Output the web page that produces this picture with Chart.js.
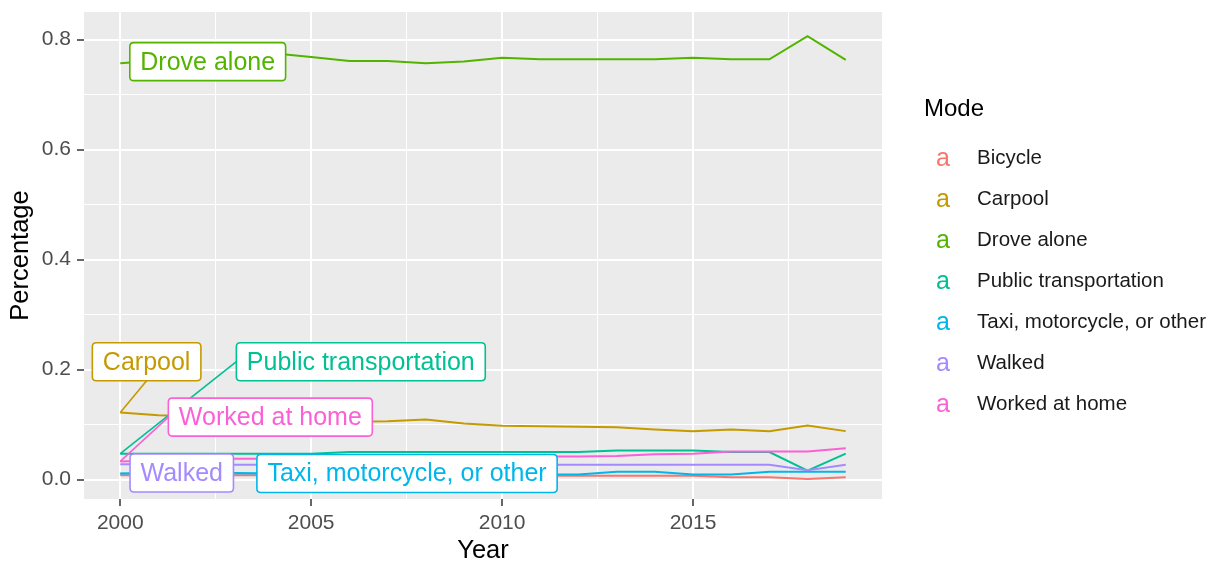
<!DOCTYPE html>
<html>
<head>
<meta charset="utf-8">
<script src="https://cdn.jsdelivr.net/npm/chart.js@4/dist/chart.umd.min.js"></script>
<style>
html, body { margin: 0; padding: 0; background: #fff; }
#wrap { width: 1227px; height: 566px; }
</style>
</head>
<body>
<div id="wrap"><canvas id="modeChart" width="1227" height="566"></canvas></div>
<script>
// data
const years = [2000, 2001, 2002, 2003, 2004, 2005, 2006, 2007, 2008, 2009,
               2010, 2011, 2012, 2013, 2014, 2015, 2016, 2017, 2018, 2019];
const modes = ['Bicycle', 'Carpool', 'Drove alone', 'Public transportation',
               'Taxi, motorcycle, or other', 'Walked', 'Worked at home'];

const bicycle    = [0.008, 0.008, 0.008, 0.008, 0.008, 0.008, 0.008, 0.008, 0.008, 0.007,
                    0.007, 0.007, 0.007, 0.007, 0.007, 0.007, 0.004, 0.004, 0.001, 0.004];
const carpool    = [0.122, 0.117, 0.115, 0.113, 0.111, 0.108, 0.105, 0.106, 0.109, 0.102,
                    0.098, 0.097, 0.096, 0.095, 0.091, 0.088, 0.091, 0.088, 0.098, 0.088];
const droveAlone = [0.757, 0.762, 0.767, 0.772, 0.775, 0.768, 0.761, 0.761, 0.757, 0.760,
                    0.767, 0.764, 0.764, 0.764, 0.764, 0.767, 0.764, 0.764, 0.806, 0.763];
const publicTransport = [0.047, 0.047, 0.047, 0.047, 0.047, 0.047, 0.050, 0.050, 0.050, 0.050,
                    0.050, 0.050, 0.050, 0.053, 0.053, 0.053, 0.050, 0.050, 0.016, 0.047];
const taxiOther  = [0.011, 0.012, 0.012, 0.012, 0.011, 0.011, 0.011, 0.010, 0.010, 0.010,
                    0.010, 0.009, 0.009, 0.014, 0.014, 0.009, 0.009, 0.014, 0.014, 0.014];
const walked     = [0.028, 0.028, 0.027, 0.027, 0.027, 0.027, 0.027, 0.027, 0.027, 0.027,
                    0.027, 0.027, 0.027, 0.027, 0.027, 0.027, 0.027, 0.027, 0.017, 0.027];
const workedHome = [0.033, 0.035, 0.037, 0.038, 0.038, 0.039, 0.039, 0.040, 0.040, 0.041,
                    0.041, 0.042, 0.042, 0.043, 0.046, 0.047, 0.051, 0.051, 0.051, 0.057];

const xTicks = [2000, 2005, 2010, 2015];
const yTicks = [0.0, 0.2, 0.4, 0.6, 0.8];

const seriesList = [bicycle, carpool, droveAlone, publicTransport, taxiOther, walked, workedHome];
const modeColors = ['#F8766D', '#C49A00', '#53B400', '#00C094', '#00B6EB', '#A58AFF', '#FB61D7'];

// where the repelled labels sit (data units), bicycle has none
const labelSpots = [
    { mode: 'Carpool', x: 2000.69, y: 0.2142 },
    { mode: 'Drove alone', x: 2002.29, y: 0.7597 },
    { mode: 'Public transportation', x: 2006.30, y: 0.2142 },
    { mode: 'Taxi, motorcycle, or other', x: 2007.51, y: 0.0109 },
    { mode: 'Walked', x: 2001.61, y: 0.0118 },
    { mode: 'Worked at home', x: 2003.93, y: 0.1135 }
];

const FONT = 'Arial, "Liberation Sans", sans-serif';

const datasets = modes.map((m, i) => ({
    label: m,
    data: years.map((yr, j) => ({ x: yr, y: seriesList[i][j] })),
    borderColor: modeColors[i],
    backgroundColor: modeColors[i],
    borderWidth: 2,
    pointRadius: 0,
    tension: 0,
    order: modes.length - i
}));

const panelBg = {
    id: 'panelBg',
    beforeDraw(chart) {
        const { ctx, chartArea: a } = chart;
        ctx.save();
        ctx.fillStyle = '#EBEBEB';
        ctx.fillRect(a.left, a.top, a.right - a.left, a.bottom - a.top);
        ctx.restore();
    }
};

function roundRect(ctx, x, y, w, h, r) {
    ctx.beginPath();
    ctx.moveTo(x + r, y);
    ctx.lineTo(x + w - r, y);
    ctx.quadraticCurveTo(x + w, y, x + w, y + r);
    ctx.lineTo(x + w, y + h - r);
    ctx.quadraticCurveTo(x + w, y + h, x + w - r, y + h);
    ctx.lineTo(x + r, y + h);
    ctx.quadraticCurveTo(x, y + h, x, y + h - r);
    ctx.lineTo(x, y + r);
    ctx.quadraticCurveTo(x, y, x + r, y);
    ctx.closePath();
}

const repelLabels = {
    id: 'repelLabels',
    afterDatasetsDraw(chart) {
        const { ctx, scales: { x, y } } = chart;
        ctx.save();
        ctx.font = '25px ' + FONT;
        const boxes = labelSpots.map(s => {
            const i = modes.indexOf(s.mode);
            const w = ctx.measureText(s.mode).width + 21;
            const h = 38;
            const cx = x.getPixelForValue(s.x), cy = y.getPixelForValue(s.y);
            return { i, text: s.mode, left: cx - w / 2, top: cy - h / 2, w, h, cx, cy };
        });
        // segments to the first point of each line
        boxes.forEach(b => {
            const px = x.getPixelForValue(years[0]);
            const py = y.getPixelForValue(seriesList[b.i][0]);
            const cands = [
                [b.left, b.cy], [b.left + b.w, b.cy], [b.cx, b.top], [b.cx, b.top + b.h]
            ];
            let best = cands[0], bd = Infinity;
            cands.forEach(c => {
                const d = Math.hypot(c[0] - px, c[1] - py);
                if (d < bd) { bd = d; best = c; }
            });
            if (bd < 20) return;
            ctx.strokeStyle = modeColors[b.i];
            ctx.lineWidth = 1.6;
            ctx.beginPath();
            ctx.moveTo(best[0], best[1]);
            ctx.lineTo(px, py);
            ctx.stroke();
        });
        boxes.forEach(b => {
            roundRect(ctx, b.left, b.top, b.w, b.h, 4);
            ctx.fillStyle = '#FFFFFF';
            ctx.fill();
            ctx.strokeStyle = modeColors[b.i];
            ctx.lineWidth = 1.6;
            ctx.stroke();
            ctx.fillStyle = modeColors[b.i];
            ctx.textAlign = 'center';
            ctx.textBaseline = 'middle';
            ctx.fillText(b.text, b.cx, b.cy + 1);
        });
        ctx.restore();
    }
};

const modeLegend = {
    id: 'modeLegend',
    afterDraw(chart) {
        const ctx = chart.ctx;
        ctx.save();
        ctx.textAlign = 'left';
        ctx.textBaseline = 'alphabetic';
        ctx.fillStyle = '#000000';
        ctx.font = '24px ' + FONT;
        ctx.fillText('Mode', 924, 116);
        chart.data.datasets.forEach((ds, i) => {
            const base = 164 + i * 41;
            ctx.font = '25px ' + FONT;
            ctx.fillStyle = ds.borderColor;
            ctx.fillText('a', 936, base + 2);
            ctx.font = '20.5px ' + FONT;
            ctx.fillStyle = '#1A1A1A';
            ctx.fillText(ds.label, 977, base);
        });
        ctx.restore();
    }
};

new Chart(document.getElementById('modeChart'), {
    type: 'line',
    data: { datasets: datasets },
    options: {
        responsive: false,
        animation: false,
        layout: { padding: { left: 0, top: 12, right: 345, bottom: 0 } },
        plugins: {
            legend: { display: false },
            tooltip: { enabled: false }
        },
        scales: {
            x: {
                type: 'linear',
                min: 1999.05,
                max: 2019.95,
                afterFit: s => { s.height = 67; s.paddingLeft = 0; s.paddingRight = 0; },
                afterBuildTicks: s => {
                    s.ticks = [2000, 2002.5, 2005, 2007.5, 2010, 2012.5, 2015, 2017.5].map(v => ({ value: v }));
                },
                border: { display: false },
                grid: {
                    color: '#FFFFFF',
                    lineWidth: c => xTicks.includes(c.tick.value) ? 2 : 1,
                    tickColor: c => xTicks.includes(c.tick.value) ? '#333333' : 'rgba(0,0,0,0)',
                    tickLength: 7,
                    tickWidth: 1.5
                },
                ticks: {
                    autoSkip: false,
                    maxRotation: 0,
                    padding: 5,
                    color: '#4D4D4D',
                    font: { family: FONT, size: 21 },
                    callback: v => xTicks.includes(v) ? String(v) : ''
                },
                title: {
                    display: true,
                    text: 'Year',
                    color: '#000000',
                    font: { family: FONT, size: 25.5 },
                    padding: { top: 0, bottom: 0 }
                }
            },
            y: {
                type: 'linear',
                min: -0.0354,
                max: 0.850,
                afterFit: s => { s.width = 84; s.paddingTop = 0; s.paddingBottom = 0; },
                afterBuildTicks: s => {
                    s.ticks = [0, 0.1, 0.2, 0.3, 0.4, 0.5, 0.6, 0.7, 0.8].map(v => ({ value: v }));
                },
                border: { display: false },
                grid: {
                    color: '#FFFFFF',
                    lineWidth: c => yTicks.some(t => Math.abs(t - c.tick.value) < 1e-6) ? 2 : 1,
                    tickColor: c => yTicks.some(t => Math.abs(t - c.tick.value) < 1e-6) ? '#333333' : 'rgba(0,0,0,0)',
                    tickLength: 7,
                    tickWidth: 1.5
                },
                ticks: {
                    autoSkip: false,
                    padding: 6,
                    color: '#4D4D4D',
                    font: { family: FONT, size: 21 },
                    callback: v => yTicks.some(t => Math.abs(t - v) < 1e-6) ? v.toFixed(1) : ''
                },
                title: {
                    display: true,
                    text: 'Percentage',
                    color: '#000000',
                    font: { family: FONT, size: 25.5 },
                    padding: { top: 6, bottom: 0 }
                }
            }
        }
    },
    plugins: [panelBg, repelLabels, modeLegend]
});
</script>
</body>
</html>
